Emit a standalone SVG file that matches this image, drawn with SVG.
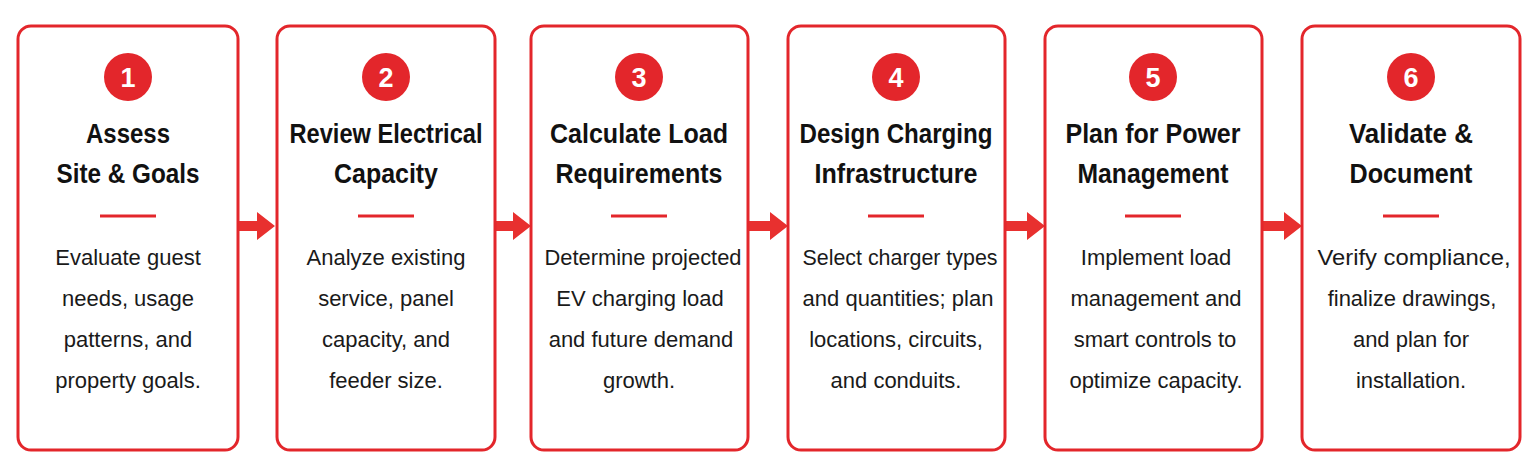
<svg xmlns="http://www.w3.org/2000/svg" width="1535" height="476" viewBox="0 0 1535 476">
<style>
.box{fill:#fff;stroke:#e3262b;stroke-width:3}
.num{fill:#e3262b}
.nt{font-family:"Liberation Sans",Arial,sans-serif;font-weight:bold;font-size:27px;fill:#fff;text-anchor:middle}
.t{font-family:"Liberation Sans",Arial,sans-serif;font-weight:bold;font-size:28px;fill:#111;text-anchor:middle}
.b{font-family:"Liberation Sans",Arial,sans-serif;font-size:22px;fill:#1a1a1a;text-anchor:middle}
.dv{stroke:#e3262b;stroke-width:3}
.ar{fill:#e8302f}
</style>
<rect width="1535" height="476" fill="#fff"/>
<g id="connectors">
<path class="ar" d="M238,221H257V212L275,226L257,240V231H238Z"/>
<path class="ar" d="M495,221H513V212L531,226L513,240V231H495Z"/>
<path class="ar" d="M748,221H770V212L788,226L770,240V231H748Z"/>
<path class="ar" d="M1005,221H1027V212L1045,226L1027,240V231H1005Z"/>
<path class="ar" d="M1262,221H1284V212L1302,226L1284,240V231H1262Z"/>
</g>
<g id="n1"><rect class="box" x="18" y="26" width="220" height="424" rx="13"/><circle class="num" cx="128" cy="77" r="24"/><text class="nt" x="128" y="87">1</text>
<text class="t" x="128" y="143" textLength="84" lengthAdjust="spacingAndGlyphs">Assess</text><text class="t" x="128" y="183" textLength="143" lengthAdjust="spacingAndGlyphs">Site &amp; Goals</text><line class="dv" x1="100" y1="216" x2="156" y2="216"/>
<text class="b" x="128" y="265">Evaluate guest</text><text class="b" x="128" y="306">needs, usage</text><text class="b" x="128" y="347">patterns, and</text><text class="b" x="128" y="388">property goals.</text></g>
<g id="n2"><rect class="box" x="277" y="26" width="218" height="424" rx="13"/><circle class="num" cx="386" cy="77" r="24"/><text class="nt" x="386" y="87">2</text>
<text class="t" x="386" y="143" textLength="193" lengthAdjust="spacingAndGlyphs">Review Electrical</text><text class="t" x="386" y="183" textLength="104" lengthAdjust="spacingAndGlyphs">Capacity</text><line class="dv" x1="358" y1="216" x2="414" y2="216"/>
<text class="b" x="386" y="265">Analyze existing</text><text class="b" x="386" y="306">service, panel</text><text class="b" x="386" y="347">capacity, and</text><text class="b" x="386" y="388">feeder size.</text></g>
<g id="n3"><rect class="box" x="531" y="26" width="217" height="424" rx="13"/><circle class="num" cx="639" cy="77" r="24"/><text class="nt" x="639" y="87">3</text>
<text class="t" x="639" y="143" textLength="178" lengthAdjust="spacingAndGlyphs">Calculate Load</text><text class="t" x="639" y="183" textLength="167" lengthAdjust="spacingAndGlyphs">Requirements</text><line class="dv" x1="611" y1="216" x2="667" y2="216"/>
<text class="b" x="643" y="265" textLength="197" lengthAdjust="spacingAndGlyphs">Determine projected</text><text class="b" x="640" y="306">EV charging load</text><text class="b" x="641" y="347">and future demand</text><text class="b" x="639" y="388">growth.</text></g>
<g id="n4"><rect class="box" x="788" y="26" width="217" height="424" rx="13"/><circle class="num" cx="896" cy="77" r="24"/><text class="nt" x="896" y="87">4</text>
<text class="t" x="896" y="143" textLength="193" lengthAdjust="spacingAndGlyphs">Design Charging</text><text class="t" x="896" y="183" textLength="163" lengthAdjust="spacingAndGlyphs">Infrastructure</text><line class="dv" x1="868" y1="216" x2="924" y2="216"/>
<text class="b" x="900" y="265" textLength="195" lengthAdjust="spacingAndGlyphs">Select charger types</text><text class="b" x="898" y="306">and quantities; plan</text><text class="b" x="896" y="347">locations, circuits,</text><text class="b" x="896" y="388">and conduits.</text></g>
<g id="n5"><rect class="box" x="1045" y="26" width="217" height="424" rx="13"/><circle class="num" cx="1153" cy="77" r="24"/><text class="nt" x="1153" y="87">5</text>
<text class="t" x="1153" y="143" textLength="175" lengthAdjust="spacingAndGlyphs">Plan for Power</text><text class="t" x="1153" y="183" textLength="151" lengthAdjust="spacingAndGlyphs">Management</text><line class="dv" x1="1125" y1="216" x2="1181" y2="216"/>
<text class="b" x="1156" y="265">Implement load</text><text class="b" x="1156" y="306">management and</text><text class="b" x="1155" y="347">smart controls to</text><text class="b" x="1156" y="388">optimize capacity.</text></g>
<g id="n6"><rect class="box" x="1302" y="26" width="218" height="424" rx="13"/><circle class="num" cx="1411" cy="77" r="24"/><text class="nt" x="1411" y="87">6</text>
<text class="t" x="1411" y="143" textLength="124" lengthAdjust="spacingAndGlyphs">Validate &amp;</text><text class="t" x="1411" y="183" textLength="123" lengthAdjust="spacingAndGlyphs">Document</text><line class="dv" x1="1383" y1="216" x2="1439" y2="216"/>
<text class="b" x="1414" y="265" textLength="193" lengthAdjust="spacingAndGlyphs">Verify compliance,</text><text class="b" x="1412" y="306">finalize drawings,</text><text class="b" x="1411" y="347">and plan for</text><text class="b" x="1411" y="388">installation.</text></g>
</svg>
